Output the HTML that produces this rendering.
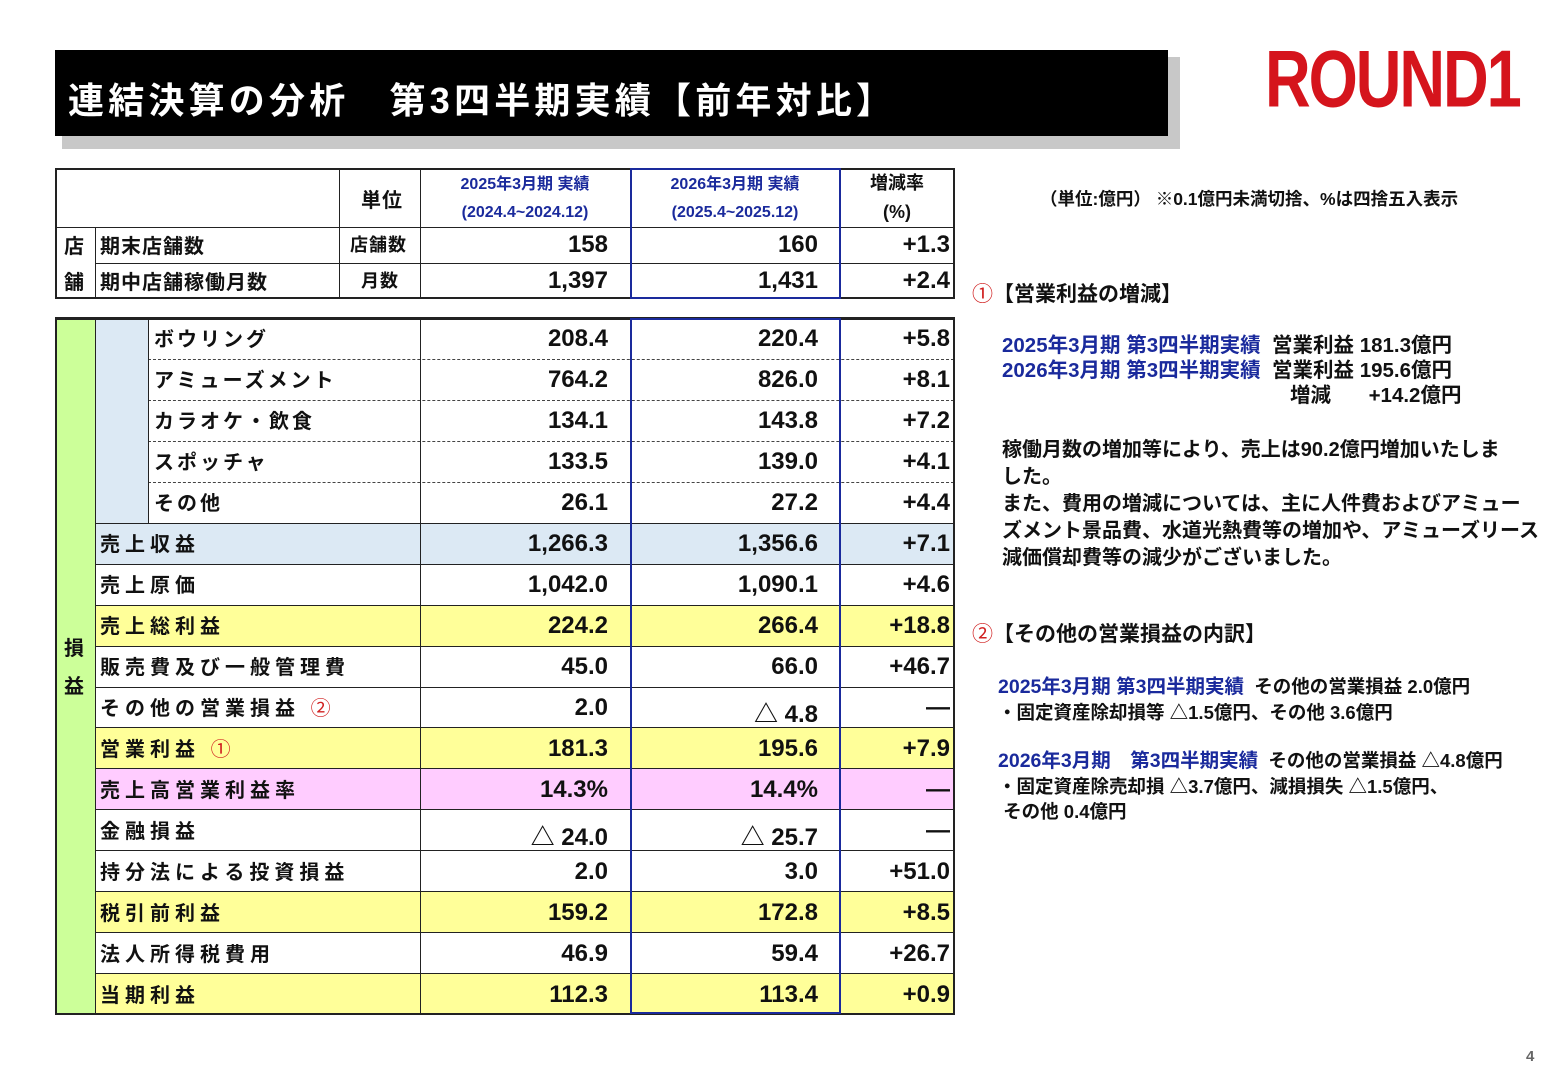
<!DOCTYPE html>
<html><head><meta charset="utf-8">
<style>
*{margin:0;padding:0;box-sizing:border-box}
body{width:1560px;height:1080px;background:#fff;position:relative;overflow:hidden;font-family:"Liberation Sans","Noto Sans CJK JP",sans-serif;font-weight:bold;color:#111}
.a{position:absolute}
.v{position:absolute;font-size:24px;text-align:right;white-space:nowrap}
.l{position:absolute;font-size:20px;white-space:nowrap;letter-spacing:1px}
.hl{position:absolute;height:1px;background:#222}
.vl{position:absolute;width:1px;background:#222}
.blue{color:#1a2a9c}
.red{color:#d02020;font-weight:normal}
.t{position:absolute;font-size:18px;white-space:nowrap}
</style></head><body>
<!-- title -->
<div class="a" style="left:62px;top:57px;width:1118px;height:92px;background:#c8c8c8"></div>
<div class="a" style="left:55px;top:50px;width:1113px;height:86px;background:#000"></div>
<div class="a" style="left:68px;top:72px;color:#fff;font-size:36px;letter-spacing:4.2px">連結決算の分析　第3四半期実績【前年対比】</div>
<!-- logo -->
<div class="a" style="left:1265px;top:40px;color:#d5141c;font-size:62px;font-weight:bold;letter-spacing:-2px;transform:scale(1.02,1.3);transform-origin:top left;line-height:62px">ROUND1</div>

<!-- top table -->
<div class="a" style="left:55px;top:168px;width:900px;height:131px;border:2px solid #222"></div>
<div class="hl" style="left:55px;top:227px;width:900px"></div>
<div class="hl" style="left:95px;top:263px;width:860px"></div>
<div class="vl" style="left:95px;top:227px;height:72px"></div>
<div class="vl" style="left:339px;top:168px;height:131px"></div>
<div class="vl" style="left:420px;top:168px;height:131px"></div>
<div class="vl" style="left:840px;top:168px;height:131px"></div>
<div class="a" style="left:630px;top:168px;width:211px;height:131px;border:2px solid #1a2a9c"></div>
<div class="l" style="left:361px;top:184px">単位</div>
<div class="a blue" style="left:420px;top:171px;width:210px;text-align:center;font-size:16px;line-height:28px">2025年3月期 実績<br>(2024.4~2024.12)</div>
<div class="a blue" style="left:630px;top:171px;width:210px;text-align:center;font-size:16px;line-height:28px">2026年3月期 実績<br>(2025.4~2025.12)</div>
<div class="a" style="left:840px;top:169px;width:114px;text-align:center;font-size:18px;line-height:29px">増減率<br>(%)</div>
<div class="l" style="left:64px;top:230px">店</div>
<div class="l" style="left:64px;top:266px">舗</div>
<div class="l" style="left:100px;top:230px">期末店舗数</div>
<div class="l" style="left:100px;top:266px">期中店舗稼働月数</div>
<div class="l" style="left:350px;top:231px;font-size:18px">店舗数</div>
<div class="l" style="left:361px;top:267px;font-size:18px">月数</div>
<div class="v" style="left:420px;width:188px;top:231px">158</div>
<div class="v" style="left:630px;width:188px;top:231px">160</div>
<div class="v" style="left:840px;width:110px;top:231px">+1.3</div>
<div class="v" style="left:420px;width:188px;top:267px">1,397</div>
<div class="v" style="left:630px;width:188px;top:267px">1,431</div>
<div class="v" style="left:840px;width:110px;top:267px">+2.4</div>

<!-- bottom table backgrounds -->
<div class="a" style="left:55px;top:318px;width:40px;height:696px;background:#ccff99"></div>
<div class="a" style="left:95px;top:318px;width:53px;height:205px;background:#dce9f4"></div>
<div class="a" style="left:95px;top:523px;width:860px;height:41px;background:#dce9f4"></div>
<div class="a" style="left:95px;top:605px;width:860px;height:41px;background:#ffff99"></div>
<div class="a" style="left:95px;top:727px;width:860px;height:41px;background:#ffff99"></div>
<div class="a" style="left:95px;top:768px;width:860px;height:41px;background:#ffccff"></div>
<div class="a" style="left:95px;top:891px;width:860px;height:41px;background:#ffff99"></div>
<div class="a" style="left:95px;top:973px;width:860px;height:41px;background:#ffff99"></div>
<!-- lines -->
<div class="a" style="left:148px;top:359px;width:806px;border-top:1px dashed #444"></div>
<div class="a" style="left:148px;top:400px;width:806px;border-top:1px dashed #444"></div>
<div class="a" style="left:148px;top:441px;width:806px;border-top:1px dashed #444"></div>
<div class="a" style="left:148px;top:482px;width:806px;border-top:1px dashed #444"></div>
<div class="hl" style="left:95px;top:523px;width:860px"></div>
<div class="hl" style="left:95px;top:564px;width:860px"></div>
<div class="hl" style="left:95px;top:605px;width:860px"></div>
<div class="hl" style="left:95px;top:646px;width:860px"></div>
<div class="hl" style="left:95px;top:687px;width:860px"></div>
<div class="hl" style="left:95px;top:727px;width:860px"></div>
<div class="hl" style="left:95px;top:768px;width:860px"></div>
<div class="hl" style="left:95px;top:809px;width:860px"></div>
<div class="hl" style="left:95px;top:850px;width:860px"></div>
<div class="hl" style="left:95px;top:891px;width:860px"></div>
<div class="hl" style="left:95px;top:932px;width:860px"></div>
<div class="hl" style="left:95px;top:973px;width:860px"></div>
<div class="vl" style="left:95px;top:318px;height:696px"></div>
<div class="vl" style="left:148px;top:318px;height:205px"></div>
<div class="vl" style="left:420px;top:318px;height:696px"></div>
<div class="vl" style="left:840px;top:318px;height:696px"></div>
<div class="a" style="left:55px;top:317px;width:900px;height:698px;border:2px solid #222;border-top-width:3px"></div>
<div class="a" style="left:630px;top:318px;width:211px;height:696px;border:2px solid #1a2a9c"></div>
<div class="l" style="left:64px;top:630px;line-height:38px">損<br>益</div>

<!-- labels -->
<div class="l" style="left:154px;top:323px;letter-spacing:3px">ボウリング</div>
<div class="l" style="left:154px;top:364px;letter-spacing:3px">アミューズメント</div>
<div class="l" style="left:154px;top:405px;letter-spacing:3px">カラオケ・飲食</div>
<div class="l" style="left:154px;top:446px;letter-spacing:3px">スポッチャ</div>
<div class="l" style="left:154px;top:487px;letter-spacing:3px">その他</div>
<div class="l" style="left:100px;top:528px;letter-spacing:5px">売上収益</div>
<div class="l" style="left:100px;top:569px;letter-spacing:5px">売上原価</div>
<div class="l" style="left:100px;top:610px;letter-spacing:5px">売上総利益</div>
<div class="l" style="left:100px;top:651px;letter-spacing:5px">販売費及び一般管理費</div>
<div class="l" style="left:100px;top:692px;letter-spacing:5px">その他の営業損益 <span class="red">②</span></div>
<div class="l" style="left:100px;top:733px;letter-spacing:5px">営業利益 <span class="red">①</span></div>
<div class="l" style="left:100px;top:774px;letter-spacing:5px">売上高営業利益率</div>
<div class="l" style="left:100px;top:815px;letter-spacing:5px">金融損益</div>
<div class="l" style="left:100px;top:856px;letter-spacing:5px">持分法による投資損益</div>
<div class="l" style="left:100px;top:897px;letter-spacing:5px">税引前利益</div>
<div class="l" style="left:100px;top:938px;letter-spacing:5px">法人所得税費用</div>
<div class="l" style="left:100px;top:979px;letter-spacing:5px">当期利益</div>

<!-- values -->
<div class="v" style="left:420px;width:188px;top:325px">208.4</div><div class="v" style="left:630px;width:188px;top:325px">220.4</div><div class="v" style="left:840px;width:110px;top:325px">+5.8</div>
<div class="v" style="left:420px;width:188px;top:366px">764.2</div><div class="v" style="left:630px;width:188px;top:366px">826.0</div><div class="v" style="left:840px;width:110px;top:366px">+8.1</div>
<div class="v" style="left:420px;width:188px;top:407px">134.1</div><div class="v" style="left:630px;width:188px;top:407px">143.8</div><div class="v" style="left:840px;width:110px;top:407px">+7.2</div>
<div class="v" style="left:420px;width:188px;top:448px">133.5</div><div class="v" style="left:630px;width:188px;top:448px">139.0</div><div class="v" style="left:840px;width:110px;top:448px">+4.1</div>
<div class="v" style="left:420px;width:188px;top:489px">26.1</div><div class="v" style="left:630px;width:188px;top:489px">27.2</div><div class="v" style="left:840px;width:110px;top:489px">+4.4</div>
<div class="v" style="left:420px;width:188px;top:530px">1,266.3</div><div class="v" style="left:630px;width:188px;top:530px">1,356.6</div><div class="v" style="left:840px;width:110px;top:530px">+7.1</div>
<div class="v" style="left:420px;width:188px;top:571px">1,042.0</div><div class="v" style="left:630px;width:188px;top:571px">1,090.1</div><div class="v" style="left:840px;width:110px;top:571px">+4.6</div>
<div class="v" style="left:420px;width:188px;top:612px">224.2</div><div class="v" style="left:630px;width:188px;top:612px">266.4</div><div class="v" style="left:840px;width:110px;top:612px">+18.8</div>
<div class="v" style="left:420px;width:188px;top:653px">45.0</div><div class="v" style="left:630px;width:188px;top:653px">66.0</div><div class="v" style="left:840px;width:110px;top:653px">+46.7</div>
<div class="v" style="left:420px;width:188px;top:694px">2.0</div><div class="v" style="left:630px;width:188px;top:694px">△ 4.8</div><div class="v" style="left:840px;width:110px;top:694px">—</div>
<div class="v" style="left:420px;width:188px;top:735px">181.3</div><div class="v" style="left:630px;width:188px;top:735px">195.6</div><div class="v" style="left:840px;width:110px;top:735px">+7.9</div>
<div class="v" style="left:420px;width:188px;top:776px">14.3%</div><div class="v" style="left:630px;width:188px;top:776px">14.4%</div><div class="v" style="left:840px;width:110px;top:776px">—</div>
<div class="v" style="left:420px;width:188px;top:817px">△ 24.0</div><div class="v" style="left:630px;width:188px;top:817px">△ 25.7</div><div class="v" style="left:840px;width:110px;top:817px">—</div>
<div class="v" style="left:420px;width:188px;top:858px">2.0</div><div class="v" style="left:630px;width:188px;top:858px">3.0</div><div class="v" style="left:840px;width:110px;top:858px">+51.0</div>
<div class="v" style="left:420px;width:188px;top:899px">159.2</div><div class="v" style="left:630px;width:188px;top:899px">172.8</div><div class="v" style="left:840px;width:110px;top:899px">+8.5</div>
<div class="v" style="left:420px;width:188px;top:940px">46.9</div><div class="v" style="left:630px;width:188px;top:940px">59.4</div><div class="v" style="left:840px;width:110px;top:940px">+26.7</div>
<div class="v" style="left:420px;width:188px;top:981px">112.3</div><div class="v" style="left:630px;width:188px;top:981px">113.4</div><div class="v" style="left:840px;width:110px;top:981px">+0.9</div>

<!-- right notes -->
<div class="t" style="left:1040px;top:186px;font-size:17.5px">（単位:億円） ※0.1億円未満切捨、%は四捨五入表示</div>
<div class="t" style="left:972px;top:278px;font-size:21px"><span class="red">①</span>【営業利益の増減】</div>
<div class="t" style="left:1002px;top:333px;line-height:25px;font-size:20.5px"><span class="blue">2025年3月期 第3四半期実績</span>&nbsp; 営業利益 181.3億円<br><span class="blue">2026年3月期 第3四半期実績</span>&nbsp; 営業利益 195.6億円<br><span style="margin-left:288px">増減　&nbsp;&nbsp; +14.2億円</span></div>
<div class="t" style="left:1002px;top:437px;line-height:27px;font-size:20px">稼働月数の増加等により、売上は90.2億円増加いたしま<br>した。<br>また、費用の増減については、主に人件費およびアミュー<br>ズメント景品費、水道光熱費等の増加や、アミューズリース<br>減価償却費等の減少がございました。</div>
<div class="t" style="left:972px;top:618px;font-size:21px"><span class="red">②</span>【その他の営業損益の内訳】</div>
<div class="t" style="left:998px;top:674px;line-height:25px;font-size:18.5px"><span class="blue" style="font-size:19.5px">2025年3月期 第3四半期実績</span>&nbsp; その他の営業損益 2.0億円<br>・固定資産除却損等 △1.5億円、その他 3.6億円</div>
<div class="t" style="left:998px;top:748px;line-height:25px;font-size:18.5px"><span class="blue" style="font-size:19.5px">2026年3月期　第3四半期実績</span>&nbsp; その他の営業損益 △4.8億円<br>・固定資産除売却損 △3.7億円、減損損失 △1.5億円、<br>&nbsp;その他 0.4億円</div>
<div class="t" style="left:1526px;top:1048px;font-size:15px;color:#666">4</div>
</body></html>
